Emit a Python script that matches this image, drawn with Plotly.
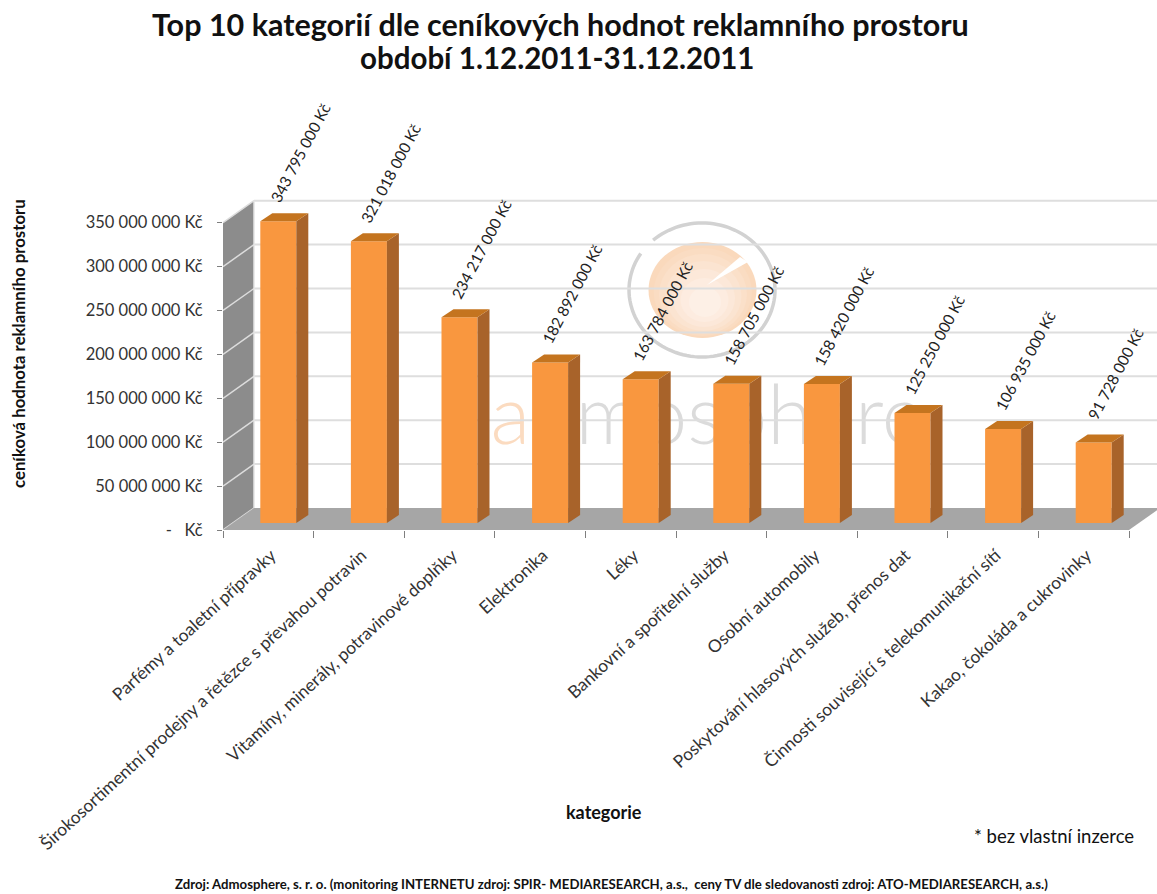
import numpy as np
import plotly.graph_objects as go

categories = ["Parfémy a toaletní přípravky",
              "Širokosortimentní prodejny a řetězce s převahou potravin",
              "Vitamíny, minerály, potravinové doplňky",
              "Elektronika", "Léky", "Bankovní a spořitelní služby",
              "Osobní automobily", "Poskytování hlasových služeb, přenos dat",
              "Činnosti související s telekomunikační sítí",
              "Kakao, čokoláda a cukrovinky"]
values = [343795000, 321018000, 234217000, 182892000, 163784000,
          158705000, 158420000, 125250000, 106935000, 91728000]
value_labels = ["343 795 000 Kč", "321 018 000 Kč", "234 217 000 Kč", "182 892 000 Kč",
                "163 784 000 Kč", "158 705 000 Kč", "158 420 000 Kč", "125 250 000 Kč",
                "106 935 000 Kč", "91 728 000 Kč"]
y_ticks = [0, 50e6, 100e6, 150e6, 200e6, 250e6, 300e6, 350e6]
y_tick_labels = ["-   Kč", "50 000 000 Kč", "100 000 000 Kč", "150 000 000 Kč", "200 000 000 Kč",
                 "250 000 000 Kč", "300 000 000 Kč", "350 000 000 Kč"]

FONT = "Lato"
L, R_PX, BOT, TOP = 223, 1157, 530, 100
PX_CAT = 90.6
PX_VAL = 0.878 / 1e6
x_range = [-0.5, -0.5 + (R_PX - L) / PX_CAT]
y_range = [0, (BOT - TOP) / PX_VAL]
DX, DY = 31 / PX_CAT, 22 / PX_VAL          # depth of the chart box
BX, BY = 12 / PX_CAT, 8 / PX_VAL           # depth of a bar
B0 = 7 / PX_VAL                            # floor offset of the bar front
OFF, W = 10 / PX_CAT, 36 / PX_CAT

def poly(xs, ys, color, axes=("x", "y")):
    return go.Scatter(x=xs, y=ys, mode="lines", fill="toself", fillcolor=color,
                      line=dict(width=0, color=color), hoverinfo="skip", showlegend=False,
                      cliponaxis=False, xaxis=axes[0], yaxis=axes[1])

def line(xs, ys, color, w):
    return go.Scatter(x=xs, y=ys, mode="lines", line=dict(color=color, width=w),
                      hoverinfo="skip", showlegend=False, cliponaxis=False)

fig = go.Figure()

# watermark word, behind everything else
fig.add_trace(go.Scatter(x=[3.39, 3.39], y=[121e6, 121e6], mode="text",
                         text=["ad", "mosphere"], textposition=["middle left", "middle right"],
                         textfont=dict(family=FONT, size=82, weight=300,
                                       color=["rgba(248,190,140,0.55)", "rgba(190,190,190,0.55)"]),
                         hoverinfo="skip", showlegend=False, cliponaxis=False))

# back-wall gridlines
for v in y_ticks[1:]:
    fig.add_trace(line([x_range[0] + DX, x_range[1]], [v + DY, v + DY], "#dedede", 2))

# left wall and floor
fig.add_trace(poly([-0.5, -0.5, -0.5 + DX, -0.5 + DX], [0, 350e6, 350e6 + DY, DY], "#8c8c8c"))
for v in y_ticks:
    fig.add_trace(line([-0.5, -0.5 + DX], [v, v + DY], "#dcdcdc", 1.5))
fig.add_trace(poly([-0.5, 9.5, 9.5 + DX, -0.5 + DX], [0, 0, DY, DY], "#a6a6a6"))
fig.add_trace(poly([-0.5, 9.5, 9.5, -0.5], [0, 0, -3 / PX_VAL, -3 / PX_VAL], "#7f7f7f"))
fig.add_trace(line([-0.5 + DX, -0.5 + DX], [DY, 350e6 + DY], "#e4e4e4", 1.5))

# bars: front face, side face, top face
xc = [i + OFF for i in range(len(values))]
fig.add_trace(go.Bar(x=xc, y=values, base=B0, width=W, marker=dict(color="#f9973f", line=dict(width=0)),
                     xaxis="x2", yaxis="y2", hoverinfo="skip", showlegend=False))
for x, v in zip(xc, values):
    xl, xr, t = x - W / 2, x + W / 2, v + B0
    fig.add_trace(poly([xr, xr + BX, xr + BX, xr], [B0, B0 + BY, t + BY, t], "#a8632a", ("x2", "y2")))
    fig.add_trace(poly([xl, xl + BX, xr + BX, xr], [t, t + BY, t + BY, t], "#c4741f", ("x2", "y2")))

annotations = [dict(x=x, y=v + B0, xref="x", yref="y", text=t, textangle=-62, showarrow=False,
                    xshift=22, yshift=68, xanchor="center", yanchor="middle",
                    font=dict(family=FONT, size=15.4, color="#222"))
               for x, v, t in zip(xc, values, value_labels)]

fig.update_layout(
    width=1157, height=894, paper_bgcolor="white", plot_bgcolor="white",
    margin=dict(l=L, r=1157 - R_PX, t=TOP, b=894 - BOT),
    xaxis=dict(range=x_range, tickmode="array", tickvals=list(range(10)), ticktext=categories,
               tickangle=-42.5, ticks="", showgrid=False, zeroline=False, showline=False,
               ticklabelstandoff=11, ticklabelshift=3,
               tickfont=dict(family=FONT, size=17.4, color="#333"), anchor="y"),
    yaxis=dict(range=y_range, tickmode="array", tickvals=y_ticks, ticktext=y_tick_labels,
               ticks="outside", ticklen=5, tickcolor="#7f7f7f", ticklabelstandoff=11,
               showgrid=False, zeroline=False, showline=False,
               tickfont=dict(family=FONT, size=16.5, color="#333"), anchor="x"),
    xaxis2=dict(range=x_range, overlaying="x", anchor="y2", side="bottom", tickmode="array",
                tickvals=[i - 0.5 for i in range(11)], showticklabels=False, ticks="outside",
                ticklen=7, tickcolor="#7f7f7f", showgrid=False, zeroline=False, showline=False),
    yaxis2=dict(range=y_range, overlaying="y", anchor="x2", showticklabels=False, ticks="",
                showgrid=False, zeroline=False, showline=False),
    barmode="overlay", showlegend=False,
)

# watermark: ring with a gap, pie disc with soft shading and a white slit
def px_x(p): return (p - L) / (R_PX - L)
def px_y(p): return (BOT - p) / (BOT - TOP)
shapes = []
for cx, cy, rx, ry, col in [(702.5, 290, 54, 48, "#fad9bc"), (702.8, 292, 49, 44, "#fadcc2"),
                            (703, 294, 44, 40, "#fbe0c9"), (703.5, 296, 38, 35, "#fbe4d1"),
                            (704, 298, 31, 29, "#fce8d9"), (704.5, 300, 24, 22, "#fdece0"),
                            (705, 302, 16, 15, "#fdf0e6")]:
    shapes.append(dict(type="circle", xref="paper", yref="paper", layer="below",
                       x0=px_x(cx - rx), x1=px_x(cx + rx), y0=px_y(cy + ry), y1=px_y(cy - ry),
                       fillcolor=col, line=dict(width=0)))
ang = -np.radians(np.arange(-132, 215, 3))
ring = " ".join(("M" if i == 0 else "L") + f"{px_x(702 + 73 * np.cos(a)):.4f},{px_y(290 - 67 * np.sin(a)):.4f}"
                for i, a in enumerate(ang))
shapes.append(dict(type="path", xref="paper", yref="paper", layer="below", path=ring,
                   line=dict(color="#d2d2d2", width=3.5)))
slit = (f"M{px_x(707):.4f},{px_y(285):.4f} L{px_x(740):.4f},{px_y(257):.4f} "
        f"L{px_x(748):.4f},{px_y(262):.4f} Z")
shapes.append(dict(type="path", xref="paper", yref="paper", layer="below", path=slit,
                   fillcolor="white", line=dict(width=0)))
fig.update_layout(shapes=shapes)

# free texts placed in page pixels, converted to the paper space of the plot area
for px, py, text, size, bold, angle in [
    (560, 24, "Top 10 kategorií dle ceníkových hodnot reklamního prostoru", 30.5, True, 0),
    (557, 58, "období 1.12.2011-31.12.2011", 29.5, True, 0),
    (18, 344, "ceníková hodnota reklamního prostoru", 16.8, True, -90),
    (604, 812, "kategorie", 18, True, 0),
    (1054, 836, "* bez vlastní inzerce", 18.5, False, 0),
    (611, 884, "Zdroj: Admosphere, s. r. o. (monitoring INTERNETU zdroj: SPIR- MEDIARESEARCH, a.s.,  ceny TV dle sledovanosti zdroj: ATO-MEDIARESEARCH, a.s.)", 13.2, True, 0),
]:
    annotations.append(dict(x=px_x(px), y=px_y(py), xref="paper", yref="paper",
                            text=f"<b>{text}</b>" if bold else text, textangle=angle, showarrow=False,
                            xanchor="center", yanchor="middle",
                            font=dict(family=FONT, size=size, color="#111")))
fig.update_layout(annotations=annotations)

fig.write_html("out.html", config={"displayModeBar": False},
               post_script="document.body.style.margin='0';")
